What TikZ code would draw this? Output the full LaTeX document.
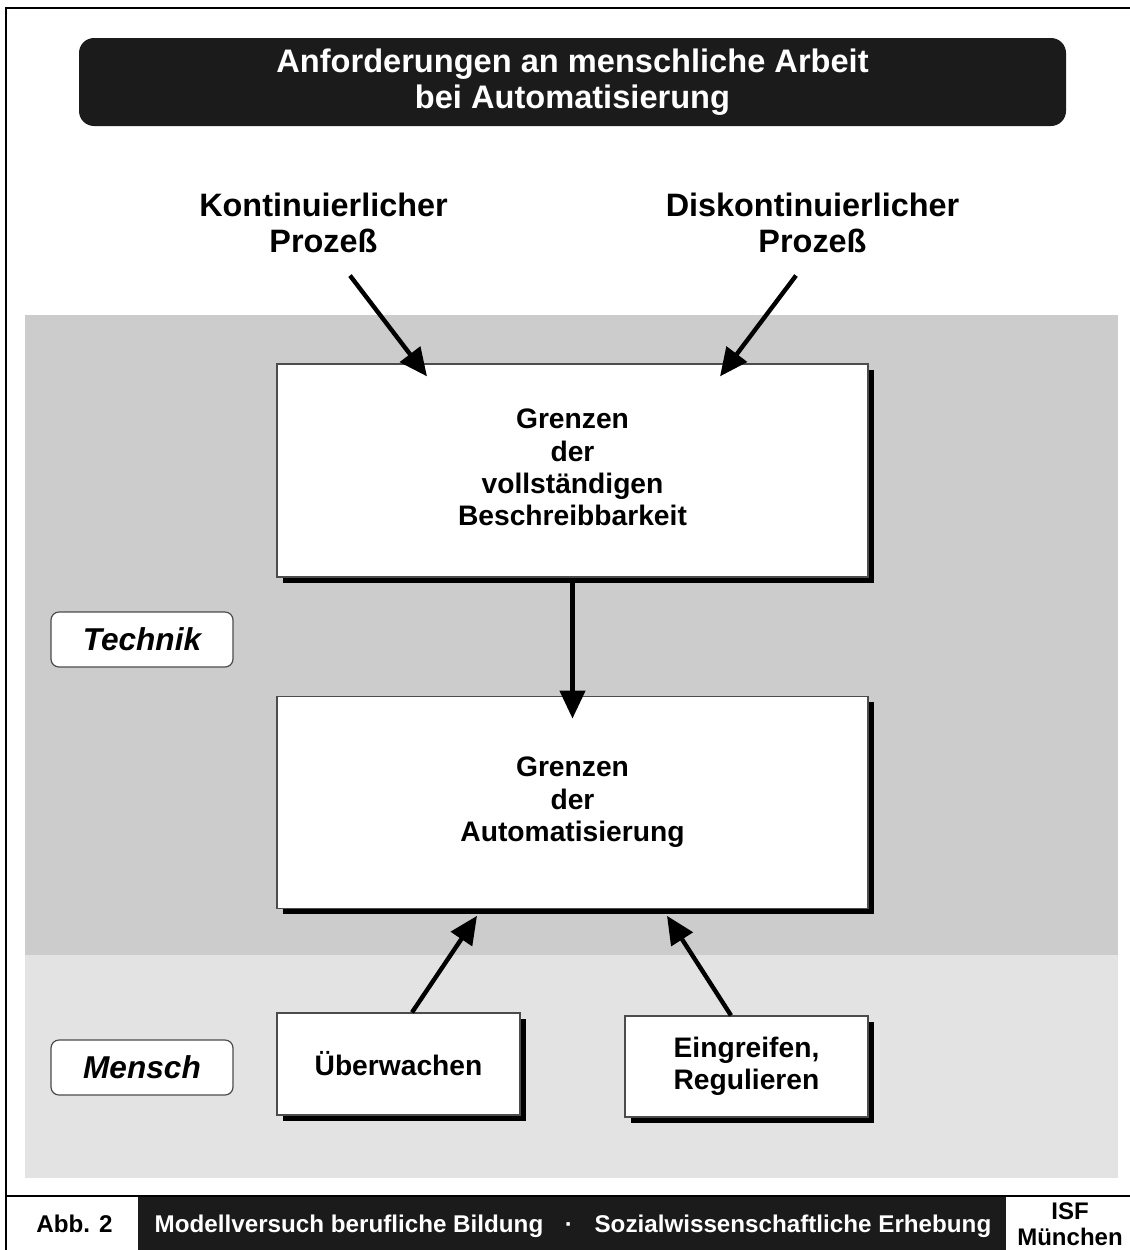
\documentclass[tikz,border=0pt]{standalone}
\usepackage{fontspec}
\setmainfont{Liberation Sans}
\usetikzlibrary{
  positioning,
  arrows.meta,
  shadows
}

\definecolor{bandgray}{HTML}{CCCCCC}
\definecolor{lightband}{HTML}{E3E3E3}
\definecolor{barblack}{HTML}{1B1B1B}

\begin{document}
\begin{tikzpicture}[
  x=0.5pt, y=-0.5pt,
  every node/.style={font=\bfseries},
  title/.style={rectangle, rounded corners=7.5pt, fill=barblack, text=white, minimum width=493.5pt, minimum height=44pt, align=center, font=\bfseries\fontsize{16.3}{18}\selectfont},
  header/.style={align=center, inner sep=0pt, font=\bfseries\fontsize{16.2}{18}\selectfont},
  block/.style={rectangle, draw=black!70, line width=0.6pt, fill=white, align=center, font=\bfseries\fontsize{14.1}{16.2}\selectfont, drop shadow={shadow xshift=2.75pt, shadow yshift=-2.75pt, fill=black, opacity=1}},
  side/.style={rectangle, rounded corners=4pt, draw=black!70, line width=0.6pt, fill=white, minimum width=91pt, minimum height=27.5pt, font=\bfseries\itshape\fontsize{15.8}{18}\selectfont},
  arrow/.style={line width=2.2pt, -{Triangle[length=14pt, width=12.5pt]}},
  footer/.style={anchor=base, font=\bfseries\fontsize{12.1}{12.5}\selectfont}
]
\useasboundingbox (0,0) rectangle (1130,1250);

% Bands and frame
\fill[bandgray] (25,315) rectangle (1118,955);
\fill[lightband] (25,955) rectangle (1118,1178);
\fill[barblack] (138,1196) rectangle (1006,1252);
\draw[line width=1pt] (6,1252) -- (6,8) -- (1135,8);
\draw[line width=1pt] (6,1196) -- (1135,1196);

\node[title] (title) at (572.5,82) {Anforderungen an menschliche Arbeit\\bei Automatisierung};

\node[header] (kont) at (323.5,222.75) {Kontinuierlicher\\Prozeß};
\node[header] (diskont) at (812.5,222.75) {Diskontinuierlicher\\Prozeß};

\node[block, minimum width=295.5pt, minimum height=106.5pt] (grenzBeschr) at (572.5,470.5) {Grenzen\\der\\vollständigen\\Beschreibbarkeit\vphantom{g}};
\node[block, minimum width=295.5pt, minimum height=106pt, below=59pt of grenzBeschr] (grenzAuto) {Grenzen\\der\\Automatisierung};

\node[block, minimum width=121.5pt, minimum height=51pt] (ueberw) at (398.5,1064) {Überwachen};
\node[block, minimum width=121.5pt, minimum height=50.5pt] (eingr) at (746.5,1066.5) {Eingreifen,\\Regulieren};

\node[side] (technik) at (142,639.5) {Technik};
\node[side] (mensch) at (142,1067.5) {Mensch};

% Arrows
\draw[arrow] ([xshift=13.25pt, yshift=-11.25pt]kont.south) -- ([xshift=-72.75pt, yshift=-6.5pt]grenzBeschr.north);
\draw[arrow] ([xshift=-8.25pt, yshift=-11.25pt]diskont.south) -- ([xshift=73.75pt, yshift=-6.5pt]grenzBeschr.north);
\draw[arrow] (grenzBeschr.south) -- ([yshift=-11.5pt]grenzAuto.north);
\draw[arrow] ([xshift=6.75pt]ueberw.north) -- ([xshift=-47.75pt, yshift=-3.5pt]grenzAuto.south);
\draw[arrow] ([xshift=-7.75pt]eingr.north) -- ([xshift=47.25pt, yshift=-3.5pt]grenzAuto.south);

% Footer
\node[footer] (abb) at (74.5,1232) {Abb. 2};
\node[footer, text=white] (projekt) at (573,1232) {Modellversuch berufliche Bildung\hspace{10.8pt}·\hspace{10.8pt}Sozialwissenschaftliche Erhebung};
\node[align=center, inner sep=0pt, font=\bfseries\fontsize{12}{13}\selectfont] (isf) at (1070,1224) {ISF\\München};

\end{tikzpicture}
\end{document}
